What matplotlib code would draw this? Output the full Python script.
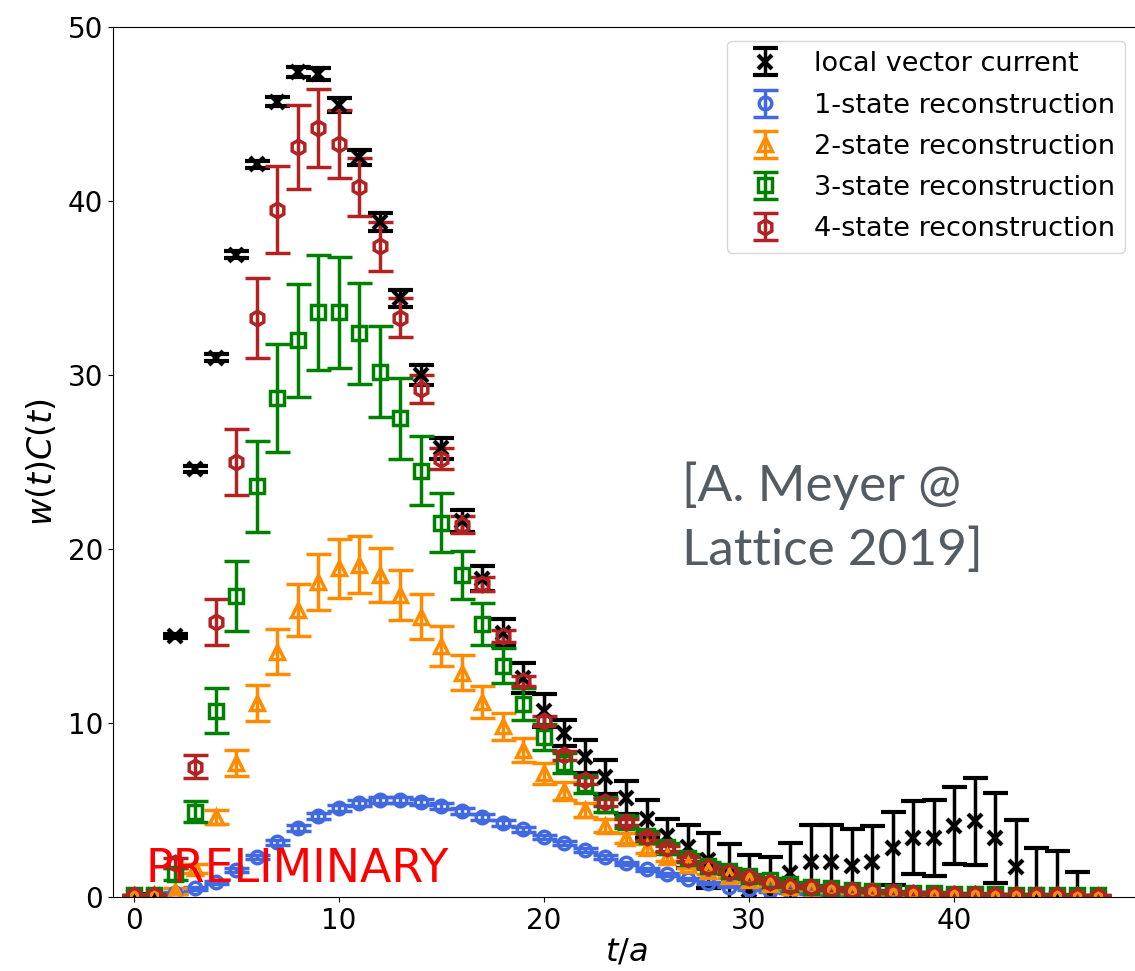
import numpy as np
import matplotlib
matplotlib.use("Agg")
import matplotlib.pyplot as plt

t = np.arange(48)

# local vector current
y_local = [0.05, 0.1, 15.0, 24.6, 31.0, 36.9, 42.1, 45.7, 47.4, 47.3,
           45.5, 42.5, 38.8, 34.4, 30.0, 25.8, 21.6, 18.3, 15.2, 12.6,
           10.7, 9.4, 8.05, 6.9, 5.7, 4.5, 3.5, 2.9, 2.1, 1.3,
           0.4, 0.2, 1.4, 2.0, 2.0, 1.8, 2.0, 2.8, 3.4, 3.4,
           4.1, 4.35, 3.4, 1.7, 0.1, 0.0, -1.2, -2.0]
e_local = [0.02, 0.05, 0.12, 0.15, 0.18, 0.2, 0.22, 0.25, 0.3, 0.35,
           0.4, 0.45, 0.5, 0.5, 0.55, 0.6, 0.65, 0.7, 0.75, 0.85,
           0.95, 0.75, 0.95, 1.0, 0.95, 1.1, 1.0, 1.25, 1.6, 1.75,
           2.0, 2.1, 1.7, 2.15, 2.15, 2.1, 2.1, 2.1, 2.1, 2.2,
           2.2, 2.5, 2.6, 2.7, 2.7, 2.65, 2.65, 1.8]

# 1-state reconstruction
y_1st = [0.05, 0.1, 0.25, 0.5, 0.85, 1.55, 2.3, 3.15, 3.95, 4.65,
         5.1, 5.4, 5.57, 5.57, 5.47, 5.25, 4.95, 4.6, 4.25, 3.9,
         3.45, 3.1, 2.7, 2.3, 1.95, 1.6, 1.3, 1.05, 0.8, 0.6,
         0.45, 0.35, 0.27, 0.2, 0.16, 0.12, 0.1, 0.08, 0.07, 0.06,
         0.05, 0.05, 0.04, 0.04, 0.03, 0.03, 0.02, 0.02]
e_1st = [0.02, 0.03, 0.05, 0.07, 0.09, 0.11, 0.13, 0.15, 0.16, 0.17,
         0.18, 0.18, 0.18, 0.18, 0.18, 0.17, 0.17, 0.16, 0.15, 0.14,
         0.13, 0.12, 0.11, 0.1, 0.09, 0.08, 0.07, 0.06, 0.05, 0.05,
         0.04, 0.04, 0.03, 0.03, 0.03, 0.02, 0.02, 0.02, 0.02, 0.02,
         0.02, 0.02, 0.02, 0.02, 0.02, 0.02, 0.02, 0.02]

# 2-state reconstruction
y_2st = [0.05, 0.1, 0.35, 1.65, 4.6, 7.7, 11.15, 14.1, 16.5, 18.1,
         18.9, 19.1, 18.5, 17.35, 16.1, 14.4, 12.9, 11.2, 9.8, 8.45,
         7.1, 6.1, 5.0, 4.1, 3.4, 2.8, 2.3, 1.85, 1.5, 1.2,
         0.95, 0.75, 0.6, 0.48, 0.38, 0.3, 0.25, 0.2, 0.16, 0.13,
         0.11, 0.09, 0.08, 0.07, 0.06, 0.05, 0.05, 0.04]
e_2st = [0.02, 0.04, 0.15, 0.25, 0.4, 0.75, 1.05, 1.3, 1.5, 1.6,
         1.7, 1.65, 1.55, 1.45, 1.3, 1.15, 1.0, 0.9, 0.8, 0.7,
         0.6, 0.5, 0.42, 0.36, 0.3, 0.26, 0.22, 0.18, 0.15, 0.13,
         0.11, 0.1, 0.09, 0.08, 0.07, 0.06, 0.05, 0.05, 0.04, 0.04,
         0.03, 0.03, 0.03, 0.03, 0.03, 0.03, 0.03, 0.03]

# 3-state reconstruction
y_3st = [0.1, 0.1, 1.3, 4.9, 10.7, 17.3, 23.6, 28.7, 32.0, 33.6,
         33.6, 32.4, 30.2, 27.5, 24.5, 21.5, 18.5, 15.7, 13.3, 11.1,
         9.2, 7.7, 6.5, 5.3, 4.3, 3.5, 2.85, 2.25, 1.8, 1.5,
         1.2, 0.95, 0.75, 0.6, 0.5, 0.42, 0.35, 0.3, 0.25, 0.22,
         0.19, 0.17, 0.15, 0.13, 0.12, 0.11, 0.1, 0.09]
e_3st = [0.02, 0.05, 0.35, 0.6, 1.3, 2.0, 2.6, 3.1, 3.25, 3.3,
         3.2, 2.9, 2.6, 2.3, 2.0, 1.7, 1.4, 1.2, 1.0, 0.9,
         0.75, 0.6, 0.5, 0.42, 0.35, 0.3, 0.26, 0.22, 0.19, 0.16,
         0.14, 0.12, 0.1, 0.09, 0.08, 0.07, 0.06, 0.05, 0.05, 0.05,
         0.04, 0.04, 0.04, 0.04, 0.04, 0.04, 0.04, 0.04]

# 4-state reconstruction
y_4st = [0.1, 0.1, 1.95, 7.5, 15.8, 25.0, 33.3, 39.5, 43.1, 44.2,
         43.3, 40.8, 37.4, 33.3, 29.2, 25.2, 21.4, 18.0, 15.0, 12.4,
         10.1, 8.15, 6.7, 5.45, 4.3, 3.45, 2.8, 2.2, 1.75, 1.45,
         1.15, 0.85, 0.65, 0.55, 0.45, 0.38, 0.32, 0.27, 0.23, 0.2,
         0.17, 0.15, 0.13, 0.11, 0.1, 0.09, 0.08, 0.07]
e_4st = [0.02, 0.05, 0.3, 0.65, 1.3, 1.9, 2.3, 2.5, 2.4, 2.25,
         1.95, 1.65, 1.4, 1.1, 0.8, 0.6, 0.5, 0.4, 0.35, 0.3,
         0.28, 0.25, 0.22, 0.2, 0.18, 0.16, 0.14, 0.12, 0.1, 0.09,
         0.08, 0.07, 0.06, 0.05, 0.05, 0.05, 0.04, 0.04, 0.04, 0.04,
         0.03, 0.03, 0.03, 0.03, 0.03, 0.03, 0.03, 0.03]

fig = plt.figure(figsize=(11.35, 9.71), dpi=100)
ax = fig.add_axes([113 / 1135, 74 / 971, 1026 / 1135, 870 / 971])

common = dict(linestyle='none', capsize=9, elinewidth=2.5, capthick=2.5)

ax.errorbar(t, y_local, yerr=e_local, marker='x', color='black',
            markersize=10, mew=3, label='local vector current', **common)
ax.errorbar(t, y_1st, yerr=e_1st, marker='o', color='royalblue', mfc='none',
            markersize=9, mew=2.5, label='1-state reconstruction', **common)
ax.errorbar(t, y_2st, yerr=e_2st, marker='^', color='darkorange', mfc='none',
            markersize=10, mew=2.5, label='2-state reconstruction', **common)
ax.errorbar(t, y_3st, yerr=e_3st, marker='s', color='green', mfc='none',
            markersize=10, mew=2.5, label='3-state reconstruction', **common)
ax.errorbar(t, y_4st, yerr=e_4st, marker='h', color='firebrick', mfc='none',
            markersize=10.5, mew=2.5, label='4-state reconstruction', **common)

ax.set_xlim(-1, 49)
ax.set_ylim(0, 50)
ax.set_xticks([0, 10, 20, 30, 40])
ax.set_yticks([0, 10, 20, 30, 40, 50])
ax.tick_params(labelsize=20)
ax.set_xlabel('$t/a$', fontsize=23, labelpad=1)
ax.set_ylabel('$w(t)C(t)$', fontsize=24, labelpad=6)

ax.legend(loc='upper right', fontsize=19.5, labelspacing=0.56)

ax.text(0.032, 0.017, 'PRELIMINARY', color='red', fontsize=33,
        transform=ax.transAxes, va='baseline', ha='left')
ax.text(0.555, 0.382, '[A. Meyer @\nLattice 2019]', color='#535b63',
        fontsize=37, family='Lato', linespacing=1.45,
        transform=ax.transAxes, va='baseline', ha='left')

fig.savefig('out.png', dpi=100)
